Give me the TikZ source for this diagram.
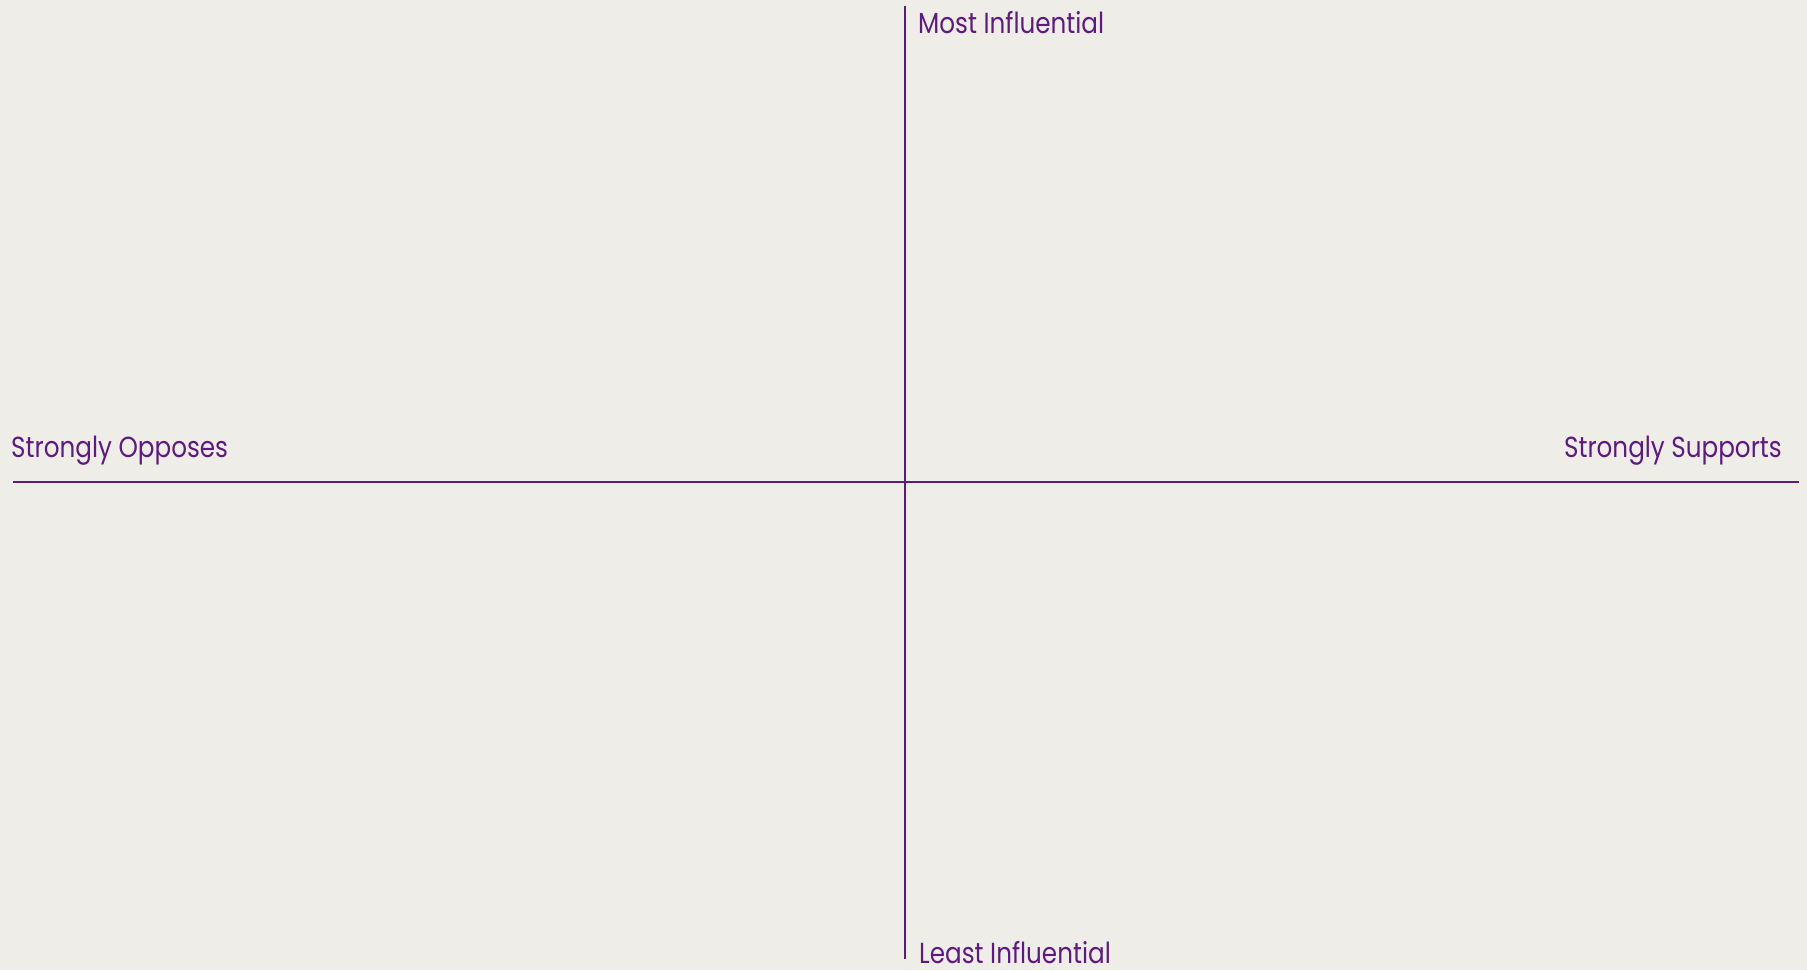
\documentclass[tikz,border=0pt]{standalone}
\usepackage{fontspec}
\setmainfont{Poppins}[FakeStretch=0.85]
\definecolor{bg}{RGB}{239,237,232}
\definecolor{axis}{RGB}{94,26,128}
\begin{document}
\begin{tikzpicture}[x=1pt,y=-1pt,
  axisline/.style={draw=axis,line width=2pt},
  lbl/.style={text=axis,font=\fontsize{29}{33}\selectfont,inner sep=0pt,anchor=base west}]
\fill[bg] (0,0) rectangle (1807,970);
\useasboundingbox (0,0) rectangle (1807,970);
\coordinate (top) at (905,6);
\coordinate (bot) at (905,959);
\coordinate (lft) at (13,482);
\coordinate (rgt) at (1799,482);
\draw[axisline] (top) -- (bot);
\draw[axisline] (lft) -- (rgt);
\node[lbl] (most) at (918,33) {Most Influential};
\node[lbl] (least) at (919,963) {Least Influential};
\node[lbl] (opp) at (11,457) {Strongly Opposes};
\node[lbl,anchor=base east] (sup) at (1782,457) {Strongly Supports};
\end{tikzpicture}
\end{document}
